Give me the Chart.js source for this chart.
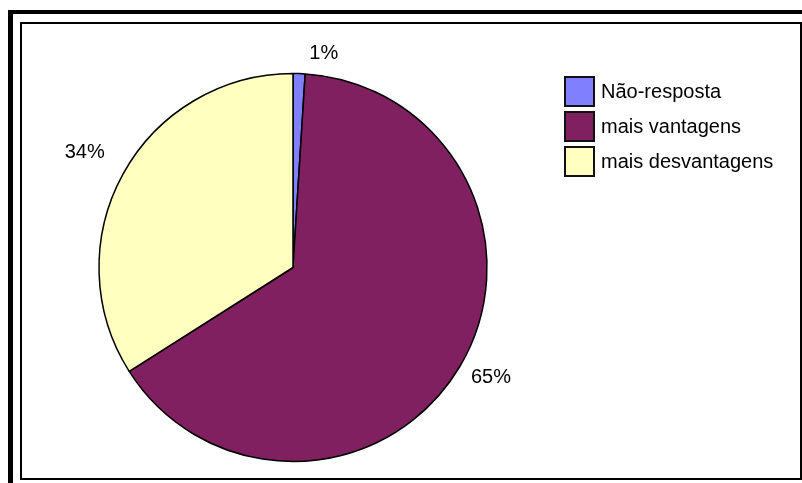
<!DOCTYPE html>
<html>
<head>
<meta charset="utf-8">
<script src="https://cdn.jsdelivr.net/npm/chart.js@4.4.0/dist/chart.umd.min.js"></script>
<style>
    html, body { margin: 0; padding: 0; background: #fff; }
    #wrap { position: relative; width: 802px; height: 483px; overflow: hidden; font-family: "Liberation Sans", Arial, sans-serif; }
    #outer { position: absolute; left: 8px; top: 10px; width: 1000px; height: 1000px; border: 5px solid #000; box-sizing: border-box; border-top-width: 4px; }
    #inner { position: absolute; left: 20px; top: 22px; width: 782px; height: 458px; border: 2px solid #000; box-sizing: border-box; background: #fff; }
    canvas { position: absolute; left: 0; top: 0; }
    #legend { position: absolute; left: 564px; top: 74px; }
    .legend-item { display: flex; align-items: center; height: 35px; }
    .legend-color { width: 31px; height: 31px; border: 2px solid #111; box-sizing: border-box; margin-right: 6px; }
    .legend-text { font-size: 20px; color: #000; }
</style>
</head>
<body>
<div id="wrap">
    <div id="outer"></div>
    <div id="inner"></div>
    <canvas id="pieChart" width="802" height="483"></canvas>
    <div id="legend"></div>
</div>
<script>
// Data
var categories = ["Não-resposta", "mais vantagens", "mais desvantagens"];
var shares = [1, 65, 34];
var sliceLabels = ["1%", "65%", "34%"];
var sliceColors = ["#8080FF", "#802060", "#FFFFC0"];

// Draw the percentage labels outside the pie
var outsideLabels = {
    id: 'outsideLabels',
    afterDatasetsDraw: function (chart, args, opts) {
        var ctx = chart.ctx;
        var meta = chart.getDatasetMeta(0);
        ctx.save();
        ctx.font = '20px "Liberation Sans", Arial, sans-serif';
        ctx.fillStyle = '#000';
        ctx.textAlign = 'center';
        ctx.textBaseline = 'middle';
        meta.data.forEach(function (arc, i) {
            var mid = (arc.startAngle + arc.endAngle) / 2;
            var r = arc.outerRadius + opts.gap;
            var nudge = opts.nudges[i] || [0, 0];
            var x = arc.x + Math.cos(mid) * r + nudge[0];
            var y = arc.y + Math.sin(mid) * r + nudge[1];
            ctx.fillText(sliceLabels[i], x, y);
        });
        ctx.restore();
    }
};

var ctx = document.getElementById('pieChart').getContext('2d');
var pieChart = new Chart(ctx, {
    type: 'pie',
    data: {
        labels: categories,
        datasets: [{
            data: shares,
            backgroundColor: sliceColors,
            borderColor: '#000',
            borderWidth: 1.5,
            hoverOffset: 0
        }]
    },
    options: {
        responsive: false,
        animation: false,
        radius: 194,
        layout: { padding: { left: 88, right: 304, top: 62, bottom: 10 } },
        plugins: {
            legend: { display: false },
            tooltip: { enabled: false },
            outsideLabels: { gap: 22, nudges: [[24, 2], [12, 0], [-19, -11]] }
        }
    },
    plugins: [outsideLabels]
});

// Legend next to the pie
var legendDiv = document.getElementById('legend');
categories.forEach(function (name, i) {
    legendDiv.innerHTML += '<div class="legend-item"><div class="legend-color" style="background:' + sliceColors[i] + '"></div><div class="legend-text">' + name + '</div></div>';
});
</script>
</body>
</html>
